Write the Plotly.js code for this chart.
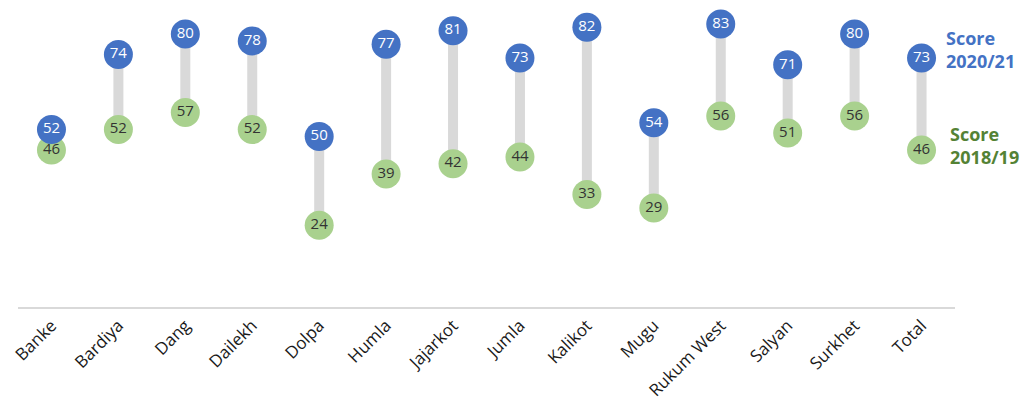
<!DOCTYPE html>
<html>
<head>
<meta charset="utf-8">
<script src="https://cdn.plot.ly/plotly-3.0.1.min.js"></script>
<style>html,body{margin:0;padding:0;background:#fff;}#chart{width:1026px;height:409px;}</style>
</head>
<body>
<div id="chart"></div>
<script>
const districts = ["Banke","Bardiya","Dang","Dailekh","Dolpa","Humla","Jajarkot","Jumla","Kalikot","Mugu","Rukum West","Salyan","Surkhet","Total"];
const score2021 = [52,74,80,78,50,77,81,73,82,54,83,71,80,73];
const score2019 = [46,52,57,52,24,39,42,44,33,29,56,51,56,46];

const lx = [], ly = [];
districts.forEach((d, i) => { lx.push(d, d, null); ly.push(score2019[i], score2021[i], null); });

const font = "Open Sans, DejaVu Sans, sans-serif";
const traces = [
  {x: lx, y: ly, mode: "lines", line: {color: "#d9d9d9", width: 10}, hoverinfo: "skip", showlegend: false, connectgaps: false},
  {x: districts, y: score2019, mode: "markers+text", name: "Score 2018/19",
   marker: {size: 29, color: "#a9d18e"}, text: score2019.map(String), textposition: "middle center",
   textfont: {family: font, size: 15, color: "#333333"}, showlegend: false},
  {x: districts, y: score2021, mode: "markers+text", name: "Score 2020/21",
   marker: {size: 29, color: "#4472c4"}, text: score2021.map(String), textposition: "middle center",
   textfont: {family: font, size: 15, color: "#ffffff"}, showlegend: false}
];

const n = districts.length;
const layout = {
  width: 1026, height: 409,
  margin: {l: 18, r: 71, t: 0, b: 102},
  paper_bgcolor: "#ffffff", plot_bgcolor: "#ffffff",
  showlegend: false,
  xaxis: {type: "category", categoryorder: "array", categoryarray: districts, range: [-0.5, n - 0.5],
    tickangle: -45, tickfont: {family: font, size: 17, color: "#1a1a1a"},
    showline: true, linecolor: "#d9d9d9", linewidth: 2, showgrid: false, ticks: "", zeroline: false},
  yaxis: {range: [0, 90], visible: false, showgrid: false, zeroline: false},
  annotations: [
    {xref: "x", yref: "y", x: n - 1 + 0.34, y: score2021[n-1], xanchor: "left", yanchor: "middle", yshift: 8,
     text: "<b>Score<br>2020/21</b>", align: "left", showarrow: false,
     font: {family: font, size: 18, color: "#4472c4"}},
    {xref: "x", yref: "y", x: n - 1 + 0.40, y: score2019[n-1], xanchor: "left", yanchor: "middle", yshift: 5,
     text: "<b>Score<br>2018/19</b>", align: "left", showarrow: false,
     font: {family: font, size: 18, color: "#548235"}}
  ]
};
Plotly.newPlot("chart", traces, layout, {displayModeBar: false, staticPlot: true});
</script>
</body>
</html>
